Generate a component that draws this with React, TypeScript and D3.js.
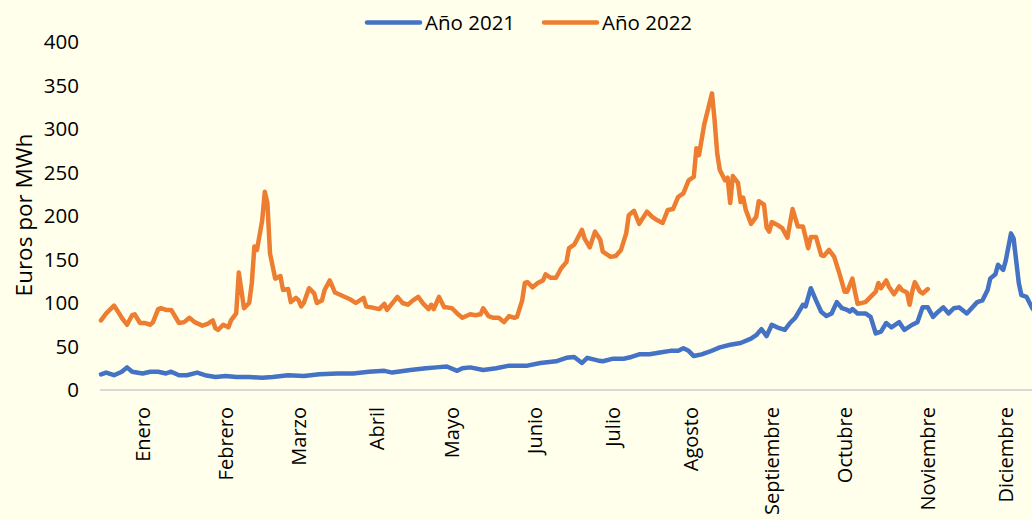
import React from "react";
import * as d3 from "d3";

const yTicks = [0, 50, 100, 150, 200, 250, 300, 350, 400];
const monthLabels = ["Enero", "Febrero", "Marzo", "Abril", "Mayo", "Junio", "Julio", "Agosto", "Septiembre", "Octubre", "Noviembre", "Diciembre"];
const monthLabelDays = [16, 48, 76, 106, 135, 167, 197, 227, 258, 286, 318, 348];
const seriesNames = ["Año 2021", "Año 2022"];
const seriesColors = ["#4472C4", "#ED7D31"];

// Año 2021: [day of year, €/MWh]
const days2021 = [0, 2, 5, 8, 10, 12, 16, 19, 22, 25, 27, 30, 33, 37, 40, 44, 48, 52, 57, 62, 66, 72, 78, 84, 91, 97, 103, 109, 112, 119, 125, 129, 133, 137, 139, 142, 147, 152, 157, 164, 169, 175, 179, 182, 185, 187, 191, 193, 197, 201, 204, 207, 211, 215, 219, 222, 224, 226, 228, 231, 234, 238, 242, 246, 250, 252, 254, 256, 258, 260, 263, 265, 267, 270, 271, 273, 275, 277, 279, 281, 283, 285, 287, 288, 289, 291, 294, 296, 298, 300, 302, 304, 307, 309, 312, 314, 316, 318, 320, 322, 324, 326, 328, 330, 333, 337, 339, 341, 342, 344, 345, 347, 348, 350, 351, 353, 354, 356, 358, 361];
const values2021 = [18, 20, 17, 21, 26, 21, 19, 21, 21, 19, 21, 17, 17, 20, 17, 15, 16, 15, 15, 14, 15, 17, 16, 18, 19, 19, 21, 22, 20, 23, 25, 26, 27, 22, 25, 26, 23, 25, 28, 28, 31, 33, 37, 38, 31, 37, 34, 33, 36, 36, 38, 41, 41, 43, 45, 45, 48, 45, 39, 41, 44, 49, 52, 54, 59, 63, 70, 62, 75, 72, 69, 77, 83, 98, 96, 117, 103, 90, 85, 88, 101, 94, 92, 90, 93, 88, 88, 84, 65, 67, 77, 72, 78, 69, 75, 78, 95, 95, 84, 90, 95, 88, 94, 95, 88, 101, 103, 115, 128, 133, 144, 138, 149, 180, 174, 123, 109, 107, 95, 82];

// Año 2022: [day of year, €/MWh]
const days2022 = [0, 2, 5, 7, 8, 10, 12, 13, 15, 17, 19, 20, 22, 23, 25, 27, 30, 32, 34, 36, 39, 41, 43, 44, 45, 47, 49, 50, 52, 53, 55, 57, 58, 59, 60, 62, 63, 64, 65, 67, 69, 70, 72, 73, 75, 76, 77, 78, 80, 82, 83, 85, 86, 88, 90, 93, 96, 98, 101, 102, 104, 107, 109, 110, 114, 116, 118, 120, 122, 124, 126, 127, 128, 130, 132, 133, 135, 137, 139, 142, 144, 146, 147, 149, 151, 153, 155, 157, 159, 160, 162, 163, 164, 166, 168, 170, 171, 173, 175, 177, 179, 180, 182, 185, 186, 188, 190, 192, 193, 196, 198, 200, 202, 203, 205, 207, 210, 212, 214, 216, 218, 220, 222, 224, 226, 228, 229, 230, 232, 235, 236, 237, 238, 240, 241, 242, 243, 245, 246, 247, 248, 250, 252, 253, 255, 256, 257, 258, 260, 262, 264, 266, 268, 270, 272, 273, 275, 277, 278, 280, 282, 284, 286, 287, 289, 290, 291, 294, 296, 298, 299, 300, 302, 303, 305, 307, 308, 310, 311, 312, 313, 315, 316, 318];
const values2022 = [80, 88, 97, 88, 83, 75, 86, 87, 77, 77, 75, 78, 93, 94, 92, 92, 77, 78, 83, 78, 74, 76, 80, 71, 69, 75, 72, 80, 88, 135, 94, 100, 123, 165, 161, 195, 228, 215, 157, 128, 131, 115, 116, 101, 106, 103, 96, 100, 117, 111, 100, 103, 115, 126, 112, 108, 104, 100, 106, 96, 95, 93, 99, 92, 107, 100, 98, 103, 107, 99, 93, 98, 93, 107, 95, 95, 94, 88, 83, 87, 86, 87, 94, 85, 83, 83, 78, 85, 83, 84, 103, 123, 124, 118, 123, 126, 133, 129, 129, 140, 147, 163, 167, 184, 174, 164, 182, 173, 159, 153, 154, 161, 180, 201, 206, 191, 205, 199, 195, 192, 207, 208, 222, 226, 241, 245, 278, 270, 305, 341, 310, 272, 253, 241, 244, 215, 246, 238, 216, 221, 207, 191, 199, 217, 213, 187, 182, 193, 190, 186, 175, 208, 188, 188, 163, 176, 176, 155, 154, 161, 153, 134, 113, 113, 128, 113, 99, 101, 107, 113, 123, 117, 126, 119, 110, 119, 115, 112, 98, 113, 124, 113, 111, 116];

const W = 1032;
const H = 519;

export default function App() {
  const x = d3.scaleLinear().domain([0, 364]).range([101, 101 + 364 * 2.6]);
  const y = d3.scaleLinear().domain([0, 400]).range([390, 42]);
  const line = d3
    .line<[number, number]>()
    .x((d) => x(d[0]))
    .y((d) => y(d[1]))
    .curve(d3.curveLinear);

  const s2021: [number, number][] = days2021.map((d, i) => [d, values2021[i]]);
  const s2022: [number, number][] = days2022.map((d, i) => [d, values2022[i]]);
  const font = "'Open Sans', sans-serif";

  return (
    <svg
      width={W}
      height={H}
      style={{ position: "absolute", left: 0, top: 0, background: "#FFFFEB", fontFamily: font }}
    >
      <rect x={0} y={0} width={W} height={H} fill="#FFFFEB" />
      {/* y tick labels */}
      {yTicks.map((t) => (
        <text key={t} x={79} y={y(t)} dy="0.35em" textAnchor="end" fontSize={20.5} fill="#000">
          {t}
        </text>
      ))}
      {/* y title */}
      <text
        transform={`translate(32,215) rotate(-90)`}
        textAnchor="middle"
        fontSize={22.5}
        fill="#000"
      >
        Euros por MWh
      </text>
      {/* x axis line */}
      <line x1={100} x2={W} y1={y(0)} y2={y(0)} stroke="#D9D9D9" strokeWidth={2} />
      {/* month labels */}
      {monthLabels.map((m, i) => (
        <text
          key={m}
          transform={`translate(${x(monthLabelDays[i])},407) rotate(-90)`}
          textAnchor="end"
          dy="0.35em"
          fontSize={20}
          fill="#000"
        >
          {m}
        </text>
      ))}
      {/* series */}
      <path d={line(s2021) || ""} fill="none" stroke={seriesColors[0]} strokeWidth={4.5} strokeLinejoin="round" strokeLinecap="round" />
      <path d={line(s2022) || ""} fill="none" stroke={seriesColors[1]} strokeWidth={4.5} strokeLinejoin="round" strokeLinecap="round" />
      {/* legend */}
      {seriesNames.map((n, i) => {
        const lx = [367, 544][i];
        return (
          <g key={n}>
            <line x1={lx} x2={lx + 53} y1={22.5} y2={22.5} stroke={seriesColors[i]} strokeWidth={4.5} strokeLinecap="round" />
            <text x={lx + 58} y={22.5} dy="0.35em" fontSize={20.5} fill="#000">
              {n}
            </text>
          </g>
        );
      })}
    </svg>
  );
}
